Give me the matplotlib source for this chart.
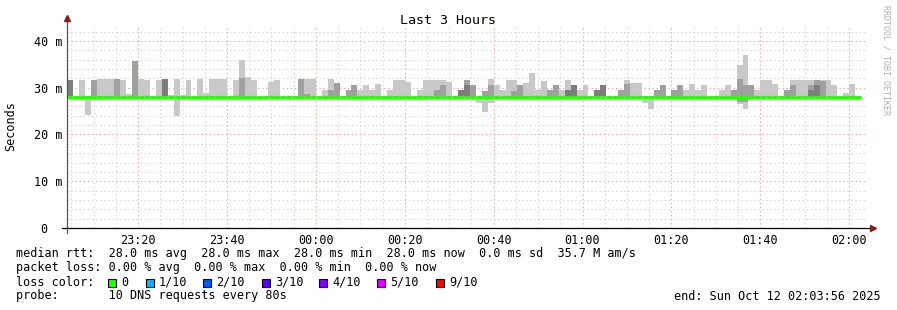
import numpy as np
import matplotlib
matplotlib.use("Agg")
from matplotlib import pyplot as plt
from matplotlib.patches import Rectangle
from matplotlib.transforms import ScaledTranslation

# === Data (ms) ===
n_pings = 10
median_ms = 28.0
step_min = 80 / 60.0   # one probe round every 80 s
# ping values that differ from the median, one list per 80 s step
outliers = [
    [31.7, 31.7, 31.7], [], [31.7], [24.2], [31.7, 31.7], [31.9], [31.9], [31.9],
    [31.9, 31.9], [31.7], [28.6], [35.7, 35.7], [31.9], [31.7], [], [31.7],
    [31.9, 31.9, 31.9], [28.5], [24.0, 31.9], [28.5], [31.7], [], [31.9], [28.9],
    [31.9], [31.9], [31.9], [], [31.7], [36.0, 32.0], [32.2], [31.7],
    [], [], [31.2], [31.7], [], [], [], [31.9, 31.9],
    [28.6, 31.9], [31.9], [], [29.5], [29.4, 31.9], [31.1, 31.1], [], [29.4, 29.4],
    [30.6, 30.6], [29.4], [30.6], [29.4], [30.8], [], [29.4], [31.7],
    [31.7], [31.2], [], [29.4], [31.7], [31.7], [29.4, 31.7], [30.6, 31.7],
    [31.2], [], [29.4, 29.4, 29.4], [30.6, 31.7, 31.7], [30.6, 30.6], [26.7],
    [24.9, 29.3, 29.3], [26.7, 30.6, 31.9], [30.6], [29.4], [31.7], [29.3, 31.7],
    [30.6, 30.6], [30.9], [33.2], [29.4], [31.4], [29.4, 29.4], [30.6, 30.6], [29.4],
    [29.4, 29.4, 31.7], [30.6, 30.6, 30.6], [29.4], [30.6], [], [29.4, 29.4, 29.4],
    [30.6, 30.6, 30.6], [], [], [29.4, 29.4], [30.8, 31.7], [31.1], [31.1], [26.7],
    [25.4], [29.4, 29.4], [30.6, 30.6], [], [29.4, 29.4], [30.6, 30.6], [29.4], [30.8],
    [29.4], [30.6], [], [], [29.4], [30.6], [29.4, 29.4], [26.5, 27.0, 31.9, 34.9],
    [25.4, 27.0, 30.6, 37.0], [30.6, 30.6], [29.4], [31.7], [31.7], [30.8], [], [29.4, 29.4],
    [30.6, 31.7], [31.7], [31.7], [29.4, 30.6, 31.7], [30.6, 31.7, 31.7], [31.4, 31.7],
    [31.7], [30.6], [], [28.9], [30.8], [],
]
x_major = [16, 36, 56, 76, 96, 116, 136, 156, 176]  # minutes after 23:04
x_labels = ["23:20", "23:40", "00:00", "00:20", "00:40", "01:00", "01:20", "01:40", "02:00"]
y_ticks = [0, 10, 20, 30, 40]
y_labels = ["0", "10 m", "20 m", "30 m", "40 m"]
loss_labels = ["0", "1/10", "2/10", "3/10", "4/10", "5/10", "9/10"]
loss_colors = ["#26ff00", "#00b8ff", "#0059ff", "#5e00ff", "#7e00ff", "#dd00ff", "#ff0000"]

smoke_colors = ["#c8c8c8", "#a0a0a0", "#7d7d7d", "#5a5a5a", "#404040"]

W, H = 897, 310
plt.rcParams["font.family"] = ["DejaVu Sans Mono"]
fig = plt.figure(figsize=(W / 100, H / 100), dpi=100)
fig.patch.set_facecolor("white")
ax = fig.add_axes([67 / W, (H - 228) / H, 800 / W, 203 / H])
ax.set_xlim(0, 180)
ax.set_ylim(0, 43.4)
for s in ax.spines.values():
    s.set_visible(False)

# grid
dash = (0, (1.3, 2.6))
for m in np.arange(1, 180, 5):
    major = any(abs(m - v) < 0.01 for v in x_major)
    ax.axvline(m, color="#f4a0a0" if major else "#d4d4d4", lw=0.75, ls=dash, zorder=0)
for v in np.arange(2, 43, 2):
    major = v % 10 == 0
    ax.axhline(v, color="#f4a0a0" if major else "#d4d4d4", lw=0.75, ls=dash, zorder=0)

# smoke
for k, extra in enumerate(outliers):
    pings = sorted(extra + [median_ms] * (n_pings - len(extra)))
    for i in range(n_pings // 2):
        lo, hi = pings[i], pings[n_pings - 1 - i]
        if hi - lo > 0:
            ax.bar(k * step_min, hi - lo, bottom=lo, width=step_min, align="edge",
                   color=smoke_colors[i], linewidth=0, zorder=2)

# median line
n = len(outliers)
starts = np.arange(n) * step_min
ax.hlines([median_ms] * n, starts, starts + step_min, colors="#26ff00", lw=2.3, zorder=3)

# axes lines and arrows
ax.plot([-1.1, 181], [0, 0], color="black", lw=0.9, clip_on=False, zorder=4)
ax.plot([0, 0], [-1, 44.5], color="#555555", lw=0.9, clip_on=False, zorder=4)
ax.plot([181.3], [0], marker=">", color="#8b1a1a", ms=4, clip_on=False, zorder=5)
ax.plot([0], [44.8], marker="^", color="#8b1a1a", ms=4, clip_on=False, zorder=5)

fs = 8.5
ax.set_xticks(x_major, x_labels, fontsize=fs)
ax.set_yticks(y_ticks, y_labels, fontsize=fs)
ax.tick_params(axis="x", length=0, pad=4)
ax.tick_params(axis="y", length=0, pad=3)
ylbls = ax.get_yticklabels()
ylbls[0].set_transform(ylbls[0].get_transform() + ScaledTranslation(-0.15, 0, fig.dpi_scale_trans))
ax.set_ylabel("Seconds", fontsize=fs, labelpad=12)

def ftext(x, y, s, **kw):
    fig.text(x / W, 1 - y / H, s, **kw)

ftext(448, 20, "Last 3 Hours", fontsize=9.6, ha="center", va="center")
ftext(886, 5, "RRDTOOL / TOBI OETIKER", fontsize=6, rotation=270, ha="center", va="top", color="#b0b0b0")

ftext(16, 254, "median rtt:  28.0 ms avg  28.0 ms max  28.0 ms min  28.0 ms now  0.0 ms sd  35.7 M am/s",
      fontsize=fs, va="center")
ftext(16, 268, "packet loss: 0.00 % avg  0.00 % max  0.00 % min  0.00 % now", fontsize=fs, va="center")
ftext(16, 282, "loss color:", fontsize=fs, va="center")
box_x = [108, 146, 203, 262, 319, 377, 436]
for bx, lab, c in zip(box_x, loss_labels, loss_colors):
    fig.patches.append(Rectangle((bx / W, 1 - 287 / H), 8 / W, 8 / H, transform=fig.transFigure,
                                 facecolor=c, edgecolor="black", lw=0.8))
    ftext(bx + 13, 282, lab, fontsize=fs, va="center")
ftext(16, 296, "probe:       10 DNS requests every 80s", fontsize=fs, va="center")
ftext(881, 296, "end: Sun Oct 12 02:03:56 2025", fontsize=fs, va="center", ha="right")

fig.savefig("out.png", dpi=100)
